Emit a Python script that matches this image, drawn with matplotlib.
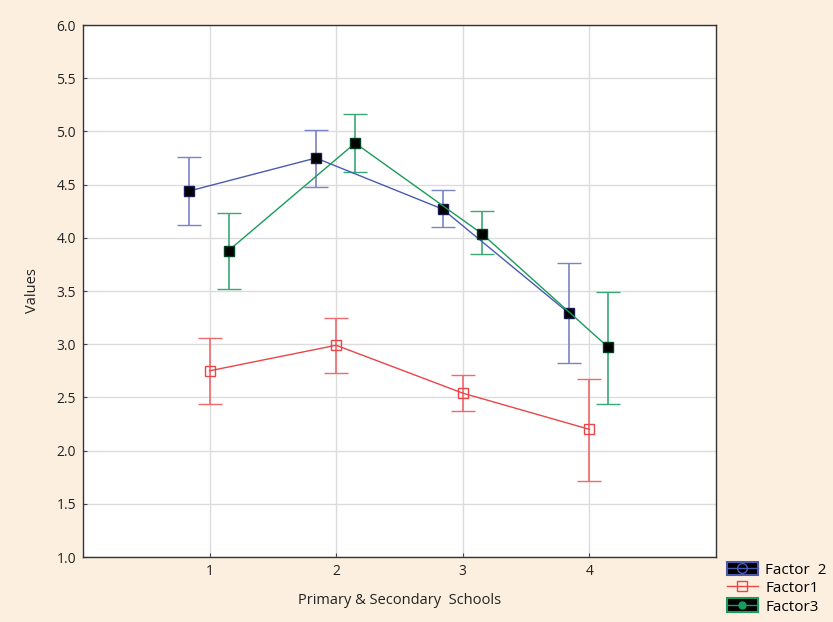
import matplotlib
matplotlib.use("Agg")
import matplotlib.pyplot as plt
from matplotlib.lines import Line2D
from matplotlib.patches import Rectangle
import numpy as np

plt.rcParams['font.family'] = ['Open Sans', 'DejaVu Sans']

categories = [1, 2, 3, 4]
f2_mean = [4.44, 4.75, 4.27, 3.29]
f2_hi = [4.76, 5.01, 4.45, 3.76]
f2_lo = [4.12, 4.48, 4.10, 2.82]
f1_mean = [2.75, 2.99, 2.54, 2.20]
f1_hi = [3.06, 3.25, 2.71, 2.67]
f1_lo = [2.44, 2.73, 2.37, 1.71]
f3_mean = [3.88, 4.89, 4.04, 2.97]
f3_hi = [4.23, 5.16, 4.25, 3.49]
f3_lo = [3.52, 4.62, 3.85, 2.44]

blue = '#4a5bb0'
red = '#ea4548'
green = '#1a9a5c'
bg = '#fdefdf'

fig = plt.figure(figsize=(8.33, 6.22), dpi=100, facecolor=bg)
ax = fig.add_axes([0.0996, 0.1045, 0.7599, 0.8553])
ax.set_facecolor('white')

x = np.array(categories, dtype=float)
series = [
    (x - 0.16, f2_mean, f2_lo, f2_hi, blue, '#7884c4', 'black', '#1a1a50'),
    (x, f1_mean, f1_lo, f1_hi, red, '#ee6a6c', 'none', red),
    (x + 0.15, f3_mean, f3_lo, f3_hi, green, '#3aa874', 'black', '#004020'),
]
for xs, m, lo, hi, c, ec, fc, mec in series:
    m = np.array(m); lo = np.array(lo); hi = np.array(hi)
    ax.errorbar(xs, m, yerr=[m - lo, hi - m], color=c, ecolor=ec, lw=1, elinewidth=1.2,
                capsize=8.5, capthick=1.2, marker='s', markersize=7.5 if fc == 'black' else 6.5,
                markerfacecolor=fc, markeredgecolor=mec,
                markeredgewidth=1, zorder=3)

ax.set_xlim(0, 5)
ax.set_ylim(1.0, 6.0)
ax.set_xticks(categories)
ax.set_xticklabels([str(c) for c in categories])
ax.set_yticks(np.arange(1.0, 6.01, 0.5))
ax.set_yticklabels([f"{v:.1f}" for v in np.arange(1.0, 6.01, 0.5)])
ax.grid(True, color='#dcdcdc', lw=1)
ax.set_axisbelow(True)
ax.tick_params(labelsize=10, length=3, color='#444444', colors='#222222', direction='in', pad=5)
for s in ax.spines.values():
    s.set_color('#333333')
    s.set_linewidth(1)
ax.set_xlabel('Primary & Secondary  Schools', fontsize=10.5, labelpad=10, color='#222222')
ax.set_ylabel('Values', fontsize=10.5, labelpad=12, color='#222222')

# legend
h2 = (Rectangle((0, 0), 1, 1, facecolor='black', edgecolor=blue, lw=1.5),
      Line2D([], [], color=blue, marker='o', markersize=7, markerfacecolor='none', markeredgecolor=blue, lw=1))
h1 = Line2D([], [], color=red, marker='s', markersize=7, markerfacecolor='none', lw=1)
h3 = (Rectangle((0, 0), 1, 1, facecolor='black', edgecolor=green, lw=1.5),
      Line2D([], [], color=green, marker='o', markersize=5, markerfacecolor=green, lw=1))
fig.legend([h2, h1, h3], ['Factor  2', 'Factor1', 'Factor3'],
           loc='lower left', bbox_to_anchor=(0.873, 0.012), frameon=False,
           fontsize=11, handlelength=2.0, handleheight=1.0, labelspacing=0.15,
           handletextpad=0.5, borderaxespad=0.0, borderpad=0.0)

fig.savefig('out.png', dpi=100, facecolor=bg)
